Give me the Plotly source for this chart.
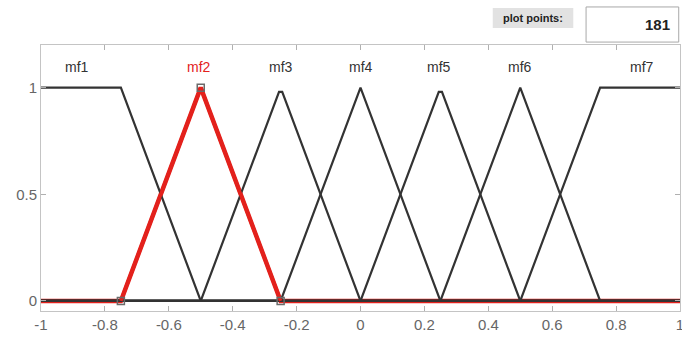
import plotly.graph_objects as go

# Membership function vertices
mf_names = ["mf1", "mf2", "mf3", "mf4", "mf5", "mf6", "mf7"]
mf1_x = [-1, -0.75, -0.5, 1]
mf1_y = [1, 1, 0, 0]
mf2_x = [-1, -0.75, -0.5, -0.25, 1]
mf2_y = [0, 0, 1, 0, 0]
mf3_x = [-1, -0.5, -0.255, -0.245, 0, 1]
mf3_y = [0, 0, 0.98, 0.98, 0, 0]
mf4_x = [-1, -0.25, 0, 0.25, 1]
mf4_y = [0, 0, 1, 0, 0]
mf5_x = [-1, 0, 0.245, 0.255, 0.5, 1]
mf5_y = [0, 0, 0.98, 0.98, 0, 0]
mf6_x = [-1, 0.25, 0.5, 0.75, 1]
mf6_y = [0, 0, 1, 0, 0]
mf7_x = [-1, 0.5, 0.75, 1]
mf7_y = [0, 0, 1, 1]

label_x = [-0.886, -0.504, -0.25, 0.0, 0.247, 0.5, 0.88]
label_y = 1.095

x_ticks = [-1, -0.8, -0.6, -0.4, -0.2, 0, 0.2, 0.4, 0.6, 0.8, 1]
x_tick_text = ["-1", "-0.8", "-0.6", "-0.4", "-0.2", "0", "0.2", "0.4", "0.6", "0.8", "1"]
y_ticks = [0, 0.5, 1]
y_tick_text = ["0", "0.5", "1"]
plot_points = "181"

RED = "#e3211c"
DARK = "#333333"

fig = go.Figure()

# red mf2 underlay (full, wide)
fig.add_trace(go.Scatter(x=mf2_x, y=mf2_y, mode="lines",
                         line=dict(color=RED, width=4.5), hoverinfo="skip"))
# black membership functions
for xs, ys in [(mf1_x, mf1_y), (mf3_x, mf3_y), (mf4_x, mf4_y),
               (mf5_x, mf5_y), (mf6_x, mf6_y), (mf7_x, mf7_y)]:
    fig.add_trace(go.Scatter(x=xs, y=ys, mode="lines",
                             line=dict(color=DARK, width=2.2), hoverinfo="skip"))
# red triangle on top
fig.add_trace(go.Scatter(x=mf2_x[1:4], y=mf2_y[1:4], mode="lines",
                         line=dict(color=RED, width=3.5), hoverinfo="skip"))
# vertex markers
fig.add_trace(go.Scatter(x=mf2_x[1:4], y=mf2_y[1:4], mode="markers",
                         marker=dict(symbol="square-open", size=7,
                                     color="#6a6a6a", line=dict(width=1.5)),
                         hoverinfo="skip"))

for name, lx in zip(mf_names, label_x):
    fig.add_annotation(x=lx, y=label_y, text=name, showarrow=False,
                       font=dict(family="Liberation Sans, Arial", size=14,
                                 color=RED if name == "mf2" else "#333333"),
                       xanchor="center", yanchor="middle")

# plot points widget
fig.add_shape(type="rect", xref="paper", yref="paper",
              x0=0.707, x1=0.833, y0=1.064, y1=1.139,
              fillcolor="#e2e2e2", line=dict(width=0), layer="below")
fig.add_annotation(xref="paper", yref="paper", x=0.77, y=1.101,
                   text="<b>plot points:</b>", showarrow=False,
                   font=dict(family="Liberation Sans, Arial", size=11, color="#222222"),
                   xanchor="center", yanchor="middle")
fig.add_shape(type="rect", xref="paper", yref="paper",
              x0=0.853, x1=0.998, y0=1.011, y1=1.143,
              fillcolor="white", line=dict(color="#a8a8a8", width=1))
fig.add_annotation(xref="paper", yref="paper", x=0.988, y=1.077,
                   text="<b>" + plot_points + "</b>", showarrow=False,
                   font=dict(family="Liberation Sans, Arial", size=15, color="#222222"),
                   xanchor="right", yanchor="middle")

axis_common = dict(showgrid=False, zeroline=False, showline=True,
                   linecolor="#c4c4c4", linewidth=1, mirror="ticks",
                   ticks="inside", ticklen=5, tickcolor="#b0b0b0",
                   ticklabeloverflow="allow", automargin=False,
                   tickfont=dict(family="Liberation Sans, Arial", size=15, color="#666666"))

fig.update_layout(
    width=682, height=345,
    margin=dict(l=41, r=2, t=45, b=34),
    paper_bgcolor="white", plot_bgcolor="white",
    showlegend=False,
    xaxis=dict(range=[-1, 1], tickvals=x_ticks, ticktext=x_tick_text, **axis_common),
    yaxis=dict(range=[-0.047, 1.2], tickvals=y_ticks, ticktext=y_tick_text, **axis_common),
)

fig.write_html("out.html",
               config={"displayModeBar": False},
               post_script="document.body.style.margin='0';document.body.style.overflow='hidden';")
